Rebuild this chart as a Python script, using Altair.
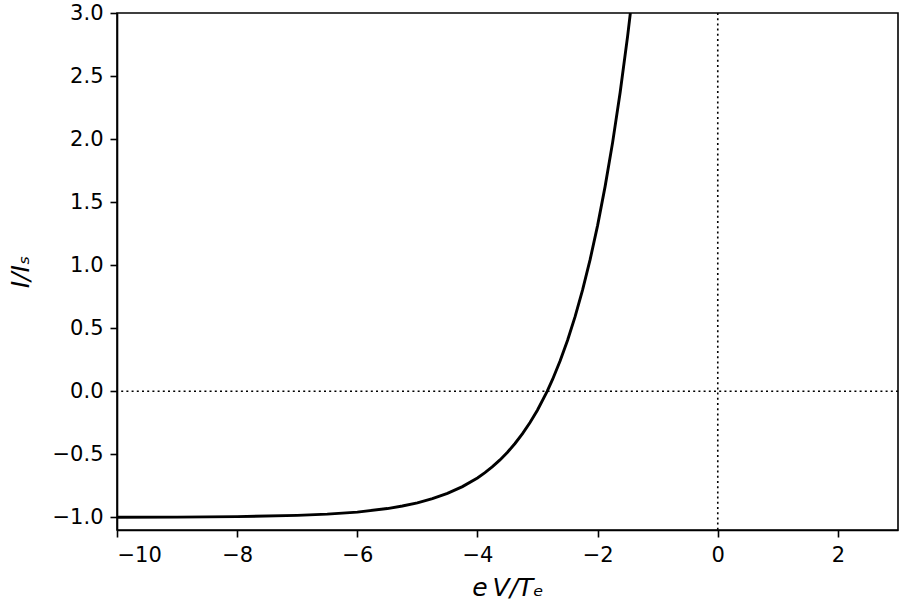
import altair as alt
import pandas as pd

# eV/Te values and I/Is values
x_vals = [-10.0, -9.0, -8.0, -7.0, -6.5, -6.0, -5.5, -5.25, -5.0, -4.75, -4.5, -4.25,
          -4.0, -3.875, -3.75, -3.625, -3.5, -3.375, -3.25, -3.125, -3.0, -2.84,
          -2.75, -2.625, -2.5, -2.375, -2.25, -2.125, -2.0, -1.875, -1.75, -1.625,
          -1.5, -1.455]
y_vals = [-0.999, -0.998, -0.994, -0.984, -0.974, -0.958, -0.930, -0.910, -0.885, -0.852,
          -0.810, -0.756, -0.687, -0.645, -0.598, -0.544, -0.483, -0.414, -0.336, -0.248,
          -0.148, 0.0, 0.094, 0.240, 0.405, 0.592, 0.804, 1.044, 1.316, 1.625, 1.974,
          2.370, 2.819, 3.0]

x_ticks = [-10, -8, -6, -4, -2, 0, 2]
y_ticks = [-1.0, -0.5, 0.0, 0.5, 1.0, 1.5, 2.0, 2.5, 3.0]

df = pd.DataFrame({"x": x_vals, "y": y_vals})

FONT = "DejaVu Sans"

xscale = alt.Scale(domain=[-10, 3], nice=False, zero=False)
yscale = alt.Scale(domain=[-1.1, 3.0], nice=False, zero=False)

xaxis = alt.Axis(values=x_ticks, format="d", title="e\u2009V/Tₑ", grid=False,
                 labelFontSize=21, titleFontSize=25, titleFontStyle="italic",
                 titleFontWeight="normal", titlePadding=10, labelPadding=7)
yaxis = alt.Axis(values=y_ticks, format=".1f", title="I/Iₛ", grid=False,
                 labelFontSize=21, titleFontSize=25, titleFontStyle="italic",
                 titleFontWeight="normal", titlePadding=19, labelPadding=7)

curve = alt.Chart(df).mark_line(color="black", strokeWidth=2.9, clip=True).encode(
    x=alt.X("x:Q", scale=xscale, axis=xaxis),
    y=alt.Y("y:Q", scale=yscale, axis=yaxis),
)

hline = alt.Chart(pd.DataFrame({"y": [0.0]})).mark_rule(
    color="black", strokeWidth=1.6, strokeDash=[2, 3.2]
).encode(y=alt.Y("y:Q", scale=yscale))

vline = alt.Chart(pd.DataFrame({"x": [0.0]})).mark_rule(
    color="black", strokeWidth=1.6, strokeDash=[2, 3.2]
).encode(x=alt.X("x:Q", scale=xscale))

chart = alt.layer(hline, vline, curve).properties(
    width=781, height=517,
    padding={"left": 117, "top": 13, "right": 2, "bottom": 78},
    autosize=alt.AutoSizeParams(type="none"),
    background="white",
).configure_view(
    stroke="black", strokeWidth=1.6
).configure_axis(
    labelFont=FONT, titleFont=FONT, labelColor="black", titleColor="black",
    domainColor="black", domainWidth=1.6, tickColor="black", tickWidth=1.6,
    tickSize=7,
)

chart.save("out.html", embed_options={"renderer": "svg", "actions": False})
